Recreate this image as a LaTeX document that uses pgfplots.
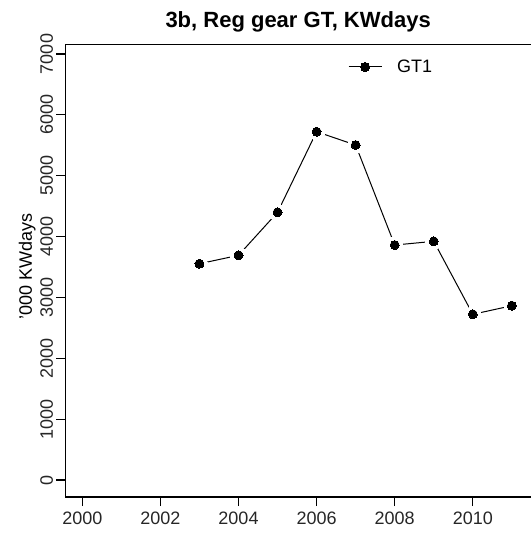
\documentclass[border=0pt]{standalone}
\usepackage{pgfplots}
\pgfplotsset{compat=1.18}
\usepackage{fontspec}
\setmainfont{Liberation Sans}

\pgfplotstableread{
year val
2003 3554
2004 3692
2005 4399
2006 5723
2007 5504
2008 3861
2009 3922
2010 2723
2011 2864
}\gtone

\begin{document}
\begin{tikzpicture}
\begin{axis}[
  at={(65.3bp,39bp)}, anchor=south west,
  scale only axis, width=465.7bp, height=452.3bp,
  xmin=1999.565, xmax=2011.49, ymin=-279, ymax=7153,
  axis x line*=box, axis y line*=left,
  xtick={2000,2002,...,2010}, ytick={0,1000,...,7000},
  xtick pos=left, ytick pos=left,
  tick align=outside, major tick length=9bp,
  every tick/.style={black, line width=1.1bp},
  axis line style={line width=1.1bp},
  /pgf/number format/assume math mode=true,
  /pgf/number format/1000 sep={},
  tick label style={font=\fontsize{18bp}{21bp}\selectfont, text=black!85},
  xticklabel style={anchor=north, inner xsep=0pt, inner ysep=5.7bp},
  yticklabel style={rotate=90, anchor=south, inner xsep=0pt, inner ysep=3bp},
  title={\bfseries 3b, Reg gear GT, KWdays},
  title style={at={(axis description cs:0.5,1)}, anchor=base, yshift=11.4bp, inner sep=0pt, font=\fontsize{22bp}{26bp}\selectfont},
  ylabel={'000 KWdays},
  every axis y label/.style={at={(axis description cs:0,0.5)}, xshift=-38bp, yshift=4bp, anchor=center, rotate=90, font=\fontsize{18bp}{21bp}\selectfont},
  legend style={draw=none, fill=none, at={(axis description cs:0.607,0.9507)}, anchor=west, inner sep=0pt, column sep=15bp, nodes={inner sep=0pt}, font=\fontsize{18bp}{21bp}\selectfont},
  legend image code/.code={\draw[#1] (0bp,0bp) -- (33bp,0bp); \draw[#1, only marks] plot coordinates {(16.5bp,0bp)};},
]
\addlegendimage{black, line width=1bp, mark=*, mark size=4.5bp, mark options={line width=0pt}}
\addlegendentry{GT1}
\addplot[black, line width=1bp, no marks, forget plot] table[x=year, y=val] {\gtone};
\addplot[white, only marks, mark=*, mark size=8bp, mark options={draw=white, fill=white, line width=0pt}, forget plot] table[x=year, y=val] {\gtone};
\addplot[black, only marks, mark=*, mark size=4.5bp, mark options={draw=black, fill=black, line width=0pt}, forget plot] table[x=year, y=val] {\gtone};
\end{axis}
\pgfresetboundingbox
\useasboundingbox (0,0) rectangle (531bp,536bp);
\end{tikzpicture}
\end{document}
